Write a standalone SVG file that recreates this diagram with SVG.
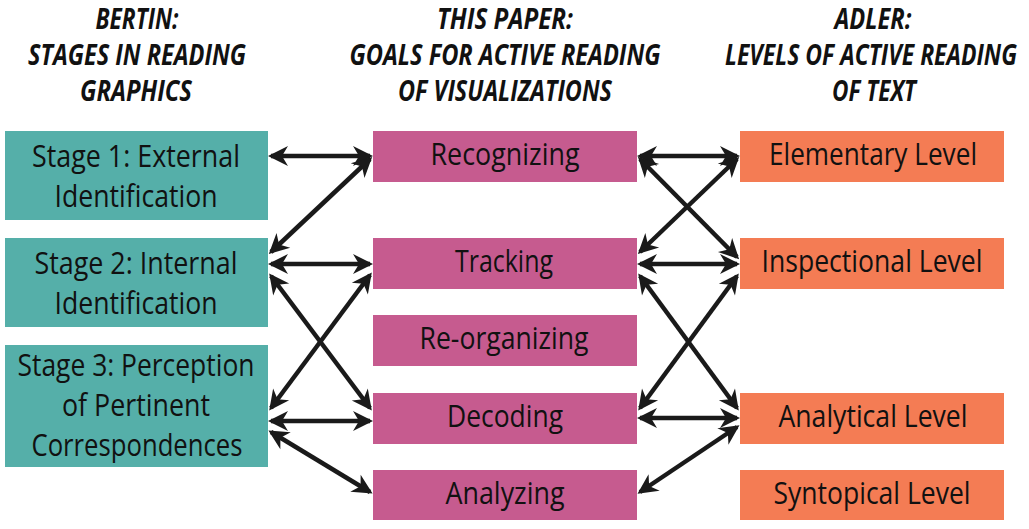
<svg xmlns="http://www.w3.org/2000/svg" width="1029" height="529" viewBox="0 0 1029 529">
<style>
.hd{font-family:"Open Sans","Liberation Sans",sans-serif;font-style:italic;font-weight:700;font-size:29px;fill:#111111;text-anchor:middle}
.bt{font-family:"Open Sans","Liberation Sans",sans-serif;font-weight:500;font-size:31px;fill:#111111;text-anchor:middle}
.teal{fill:#55AFA9}
.pink{fill:#C65B8F}
.orng{fill:#F47C54}
.ar{stroke:#1a1a1a;stroke-width:4.5;fill:none;marker-start:url(#ah);marker-end:url(#ah)}
</style>
<defs>
<marker id="ah" markerUnits="userSpaceOnUse" orient="auto-start-reverse" markerWidth="40" markerHeight="40" refX="0" refY="0" overflow="visible">
<path d="M3,0 L-17,-10 L-11,0 L-17,10 Z" fill="#1a1a1a"/>
</marker>
</defs>
<rect width="1029" height="529" fill="#ffffff"/>
<g id="headers">
<text class="hd" x="137" y="29" textLength="83" lengthAdjust="spacingAndGlyphs">BERTIN:</text>
<text class="hd" x="137" y="65" textLength="218" lengthAdjust="spacingAndGlyphs">STAGES IN READING</text>
<text class="hd" x="136" y="101" textLength="112" lengthAdjust="spacingAndGlyphs">GRAPHICS</text>
<text class="hd" x="505" y="29" textLength="136" lengthAdjust="spacingAndGlyphs">THIS PAPER:</text>
<text class="hd" x="505" y="65" textLength="311" lengthAdjust="spacingAndGlyphs">GOALS FOR ACTIVE READING</text>
<text class="hd" x="505" y="101" textLength="214" lengthAdjust="spacingAndGlyphs">OF VISUALIZATIONS</text>
<text class="hd" x="873" y="29" textLength="77" lengthAdjust="spacingAndGlyphs">ADLER:</text>
<text class="hd" x="871" y="65" textLength="292" lengthAdjust="spacingAndGlyphs">LEVELS OF ACTIVE READING</text>
<text class="hd" x="874" y="101" textLength="84" lengthAdjust="spacingAndGlyphs">OF TEXT</text>
</g>
<g id="stage1"><rect class="teal" x="5" y="131" width="263" height="89"/>
<text class="bt" x="136" y="167" textLength="208" lengthAdjust="spacingAndGlyphs">Stage 1: External</text>
<text class="bt" x="136" y="207" textLength="163" lengthAdjust="spacingAndGlyphs">Identification</text></g>
<g id="stage2"><rect class="teal" x="5" y="238" width="263" height="89"/>
<text class="bt" x="136" y="274" textLength="203" lengthAdjust="spacingAndGlyphs">Stage 2: Internal</text>
<text class="bt" x="136" y="314" textLength="163" lengthAdjust="spacingAndGlyphs">Identification</text></g>
<g id="stage3"><rect class="teal" x="5" y="345" width="263" height="122"/>
<text class="bt" x="136" y="376" textLength="237" lengthAdjust="spacingAndGlyphs">Stage 3: Perception</text>
<text class="bt" x="136" y="416" textLength="148" lengthAdjust="spacingAndGlyphs">of Pertinent</text>
<text class="bt" x="137" y="456" textLength="211" lengthAdjust="spacingAndGlyphs">Correspondences</text></g>
<g id="recognizing"><rect class="pink" x="373" y="131" width="264" height="51"/>
<text class="bt" x="505" y="165" textLength="149" lengthAdjust="spacingAndGlyphs">Recognizing</text></g>
<g id="tracking"><rect class="pink" x="373" y="238" width="264" height="51"/>
<text class="bt" x="504" y="272" textLength="98" lengthAdjust="spacingAndGlyphs">Tracking</text></g>
<g id="reorganizing"><rect class="pink" x="373" y="315" width="264" height="51"/>
<text class="bt" x="504" y="349" textLength="169" lengthAdjust="spacingAndGlyphs">Re-organizing</text></g>
<g id="decoding"><rect class="pink" x="373" y="393" width="264" height="51"/>
<text class="bt" x="505" y="427" textLength="116" lengthAdjust="spacingAndGlyphs">Decoding</text></g>
<g id="analyzing"><rect class="pink" x="373" y="470" width="264" height="50"/>
<text class="bt" x="505" y="504" textLength="119" lengthAdjust="spacingAndGlyphs">Analyzing</text></g>
<g id="elementary"><rect class="orng" x="740" y="131" width="264" height="51"/>
<text class="bt" x="873" y="165" textLength="208" lengthAdjust="spacingAndGlyphs">Elementary Level</text></g>
<g id="inspectional"><rect class="orng" x="740" y="238" width="264" height="51"/>
<text class="bt" x="872" y="272" textLength="221" lengthAdjust="spacingAndGlyphs">Inspectional Level</text></g>
<g id="analytical"><rect class="orng" x="740" y="393" width="264" height="51"/>
<text class="bt" x="873" y="427" textLength="189" lengthAdjust="spacingAndGlyphs">Analytical Level</text></g>
<g id="syntopical"><rect class="orng" x="740" y="470" width="264" height="50"/>
<text class="bt" x="872" y="504" textLength="197" lengthAdjust="spacingAndGlyphs">Syntopical Level</text></g>
<g id="connectors">
<line class="ar" x1="271" y1="156" x2="370" y2="156"/>
<line class="ar" x1="271" y1="252" x2="370" y2="159"/>
<line class="ar" x1="271" y1="264" x2="370" y2="264"/>
<line class="ar" x1="271" y1="276" x2="370" y2="408"/>
<line class="ar" x1="271" y1="408" x2="370" y2="275"/>
<line class="ar" x1="271" y1="421" x2="370" y2="421"/>
<line class="ar" x1="271" y1="432" x2="370" y2="492"/>
<line class="ar" x1="640" y1="156" x2="737" y2="156"/>
<line class="ar" x1="640" y1="159" x2="737" y2="257"/>
<line class="ar" x1="737" y1="159" x2="640" y2="252"/>
<line class="ar" x1="640" y1="264" x2="737" y2="264"/>
<line class="ar" x1="640" y1="276" x2="737" y2="408"/>
<line class="ar" x1="737" y1="276" x2="640" y2="408"/>
<line class="ar" x1="640" y1="418" x2="737" y2="418"/>
<line class="ar" x1="737" y1="427" x2="640" y2="492"/>
</g>
</svg>
